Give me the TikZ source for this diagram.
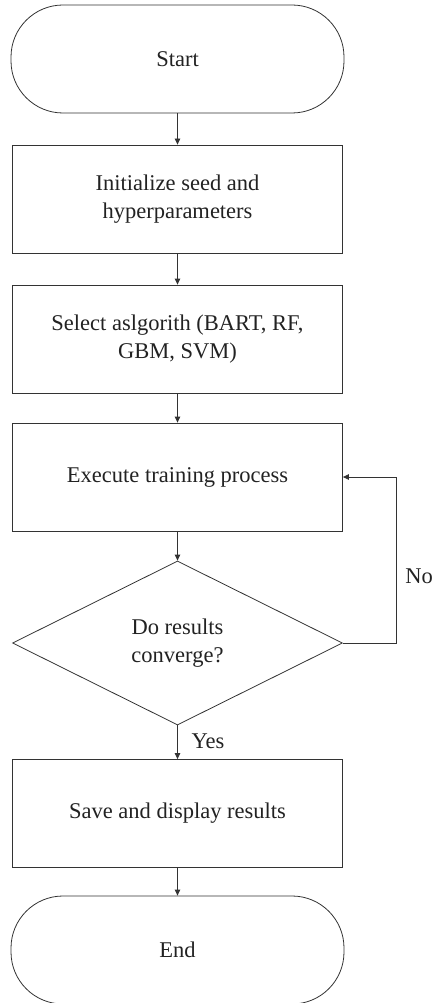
\documentclass[tikz,border=0pt]{standalone}
\usepackage{fontspec}
\setmainfont{Liberation Serif}
\usetikzlibrary{arrows.meta,shapes.geometric}
\definecolor{linec}{HTML}{333333}
\definecolor{textc}{HTML}{222222}
\tikzset{
  base/.style={draw=linec, line width=0.8pt, text=textc, align=center,
    font=\fontsize{22.5pt}{28pt}\selectfont, inner sep=0pt},
  term/.style={base, rectangle, rounded corners=52pt, minimum width=333pt, minimum height=108pt},
  proc/.style={base, rectangle, minimum width=330pt, minimum height=108pt},
  decide/.style={base, diamond, aspect=2, minimum width=330pt, minimum height=164pt},
  conn/.style={draw=linec, line width=0.8pt, -{Triangle[length=6pt,width=5.5pt]}},
  lab/.style={text=textc, font=\fontsize{22.5pt}{28pt}\selectfont, inner sep=0pt}
}
\begin{document}
\begin{tikzpicture}[x=1pt,y=-1pt]
\useasboundingbox (0,0) rectangle (435,1003);
\node[term] (start) at (177.5,59) {Start};
\node[proc] (init) at (177.5,199) {Initialize seed and\\hyperparameters};
\node[proc] (sel) at (177.5,339) {Select aslgorith (BART, RF,\\GBM, SVM)};
\node[proc] (exec) at (177.5,477) {Execute training process};
\node[decide] (conv) at (177.5,643) {Do results\\converge?};
\node[proc] (save) at (177.5,813.5) {Save and display results};
\node[term] (end) at (177.5,950) {End};
\coordinate (fb) at (396,643);
\draw[conn] (start) -- (init);
\draw[conn] (init) -- (sel);
\draw[conn] (sel) -- (exec);
\draw[conn] (exec) -- (conv);
\draw[conn] (conv) -- (save);
\draw[conn] (save) -- (end);
\draw[conn] (conv.east) -- (fb) |- (exec.east);
\node[lab] (no) at (419,576) {No};
\node[lab] (yes) at (208,741) {Yes};
\end{tikzpicture}
\end{document}
